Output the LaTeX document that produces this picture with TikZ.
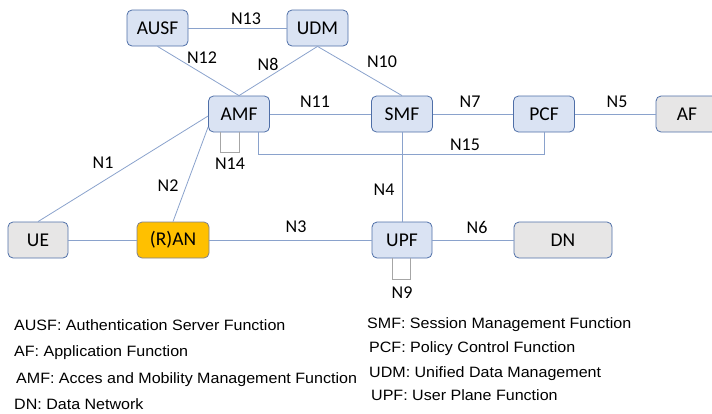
\documentclass[tikz,border=0pt]{standalone}
\usepackage{fontspec}
\setmainfont{Carlito}
\newfontfamily\legendfont[FakeStretch=1.07]{Liberation Sans}
\usetikzlibrary{calc,positioning}

\definecolor{nfill}{HTML}{DAE3F3}
\definecolor{nedge}{HTML}{4F6FA8}
\definecolor{gfill}{HTML}{E7E6E6}
\definecolor{ranfill}{HTML}{FFC000}
\definecolor{ranedge}{HTML}{7F8090}
\definecolor{lnk}{HTML}{8AA2CC}
\definecolor{lnkgray}{HTML}{A6A6A6}

\begin{document}
\begin{tikzpicture}[x=1pt,y=-1pt,inner sep=0pt,
  nf/.style={draw=nedge,fill=nfill,line width=0.8pt,rounded corners=5pt,
    minimum width=61pt,minimum height=36pt,font=\fontsize{19.5}{21}\selectfont},
  gnf/.style={nf,fill=gfill},
  rannf/.style={nf,draw=ranedge,fill=ranfill},
  lbl/.style={font=\fontsize{18}{20}\selectfont},
  link/.style={draw=lnk,line width=0.8pt},
  looplink/.style={draw=lnkgray,line width=0.8pt},
  legend/.style={anchor=base west,font=\legendfont\fontsize{15}{17}\selectfont}]
\useasboundingbox (0,0) rectangle (712,413);

% network functions
\node (ausf) at (157.5,28) [nf] {AUSF};
\node (udm) at (317.5,28) [nf] {UDM};
\node (amf) at (239,114) [nf] {AMF};
\node (smf) at (402,114) [nf] {SMF};
\node (pcf) at (544,114) [nf] {PCF};
\node (af) at (687,114) [gnf,minimum width=62pt] {AF};
\node (ue) at (38,240) [gnf,minimum width=60pt] {UE};
\node (ran) at (173,240) [rannf,minimum width=72pt] {(R)AN};
\node (upf) at (402,240) [nf,minimum width=60pt] {UPF};
\node (dn) at (563,240) [gnf,minimum width=98pt] {DN};

% interfaces
\draw[link] (ausf) -- (udm);
\draw[link] (ausf.south) -- (amf.north);
\draw[link] (udm.south) -- (amf.north);
\draw[link] (udm.south) -- (smf.north);
\draw[link] (amf) -- (smf);
\draw[link] (smf) -- (pcf);
\draw[link] (pcf) -- (af);
\draw[link] (smf) -- (upf);
\draw[link] (ue) -- (ran);
\draw[link] (ran) -- (upf);
\draw[link] (upf) -- (dn);
\draw[link] (ue.north) -- ($(amf.west)+(0,2)$);
\draw[link] (ran.north) -- ($(amf.west)+(0,13)$);
\draw[link] ($(amf.south)+(19,0)$) -- ++(0,22) -| (pcf.south);
\draw[looplink] ($(amf.south)+(-19,0)$) -- ++(0,20) -| (amf.south);
\draw[looplink] ($(upf.south)+(-10,0)$) -- ++(0,21) -| ($(upf.south)+(8,0)$);

\node (n13) at (246,19) [lbl] {N13};
\node (n12) at (202,58) [lbl] {N12};
\node (n8) at (268,64) [lbl] {N8};
\node (n10) at (382,62) [lbl] {N10};
\node (n11) at (315,102) [lbl] {N11};
\node (n7) at (470,102) [lbl] {N7};
\node (n5) at (617,102) [lbl] {N5};
\node (n15) at (465,145) [lbl] {N15};
\node (n14) at (230,164) [lbl] {N14};
\node (n1) at (103,163) [lbl] {N1};
\node (n2) at (168,186) [lbl] {N2};
\node (n4) at (384,190) [lbl] {N4};
\node (n3) at (296,227) [lbl] {N3};
\node (n6) at (477,227) [lbl] {N6};
\node (n9) at (402,293) [lbl] {N9};

% legend
\node (lausf) at (14,330) [legend] {AUSF: Authentication Server Function};
\node (laf) at (14,356) [legend] {AF: Application Function};
\node (lamf) at (16,383) [legend] {AMF: Acces and Mobility Management Function};
\node (ldn) at (14,409) [legend] {DN: Data Network};
\node (lsmf) at (367,328) [legend] {SMF: Session Management Function};
\node (lpcf) at (369,352) [legend] {PCF: Policy Control Function};
\node (ludm) at (369,377) [legend] {UDM: Unified Data Management};
\node (lupf) at (371,400) [legend] {UPF: User Plane Function};

\end{tikzpicture}
\end{document}
